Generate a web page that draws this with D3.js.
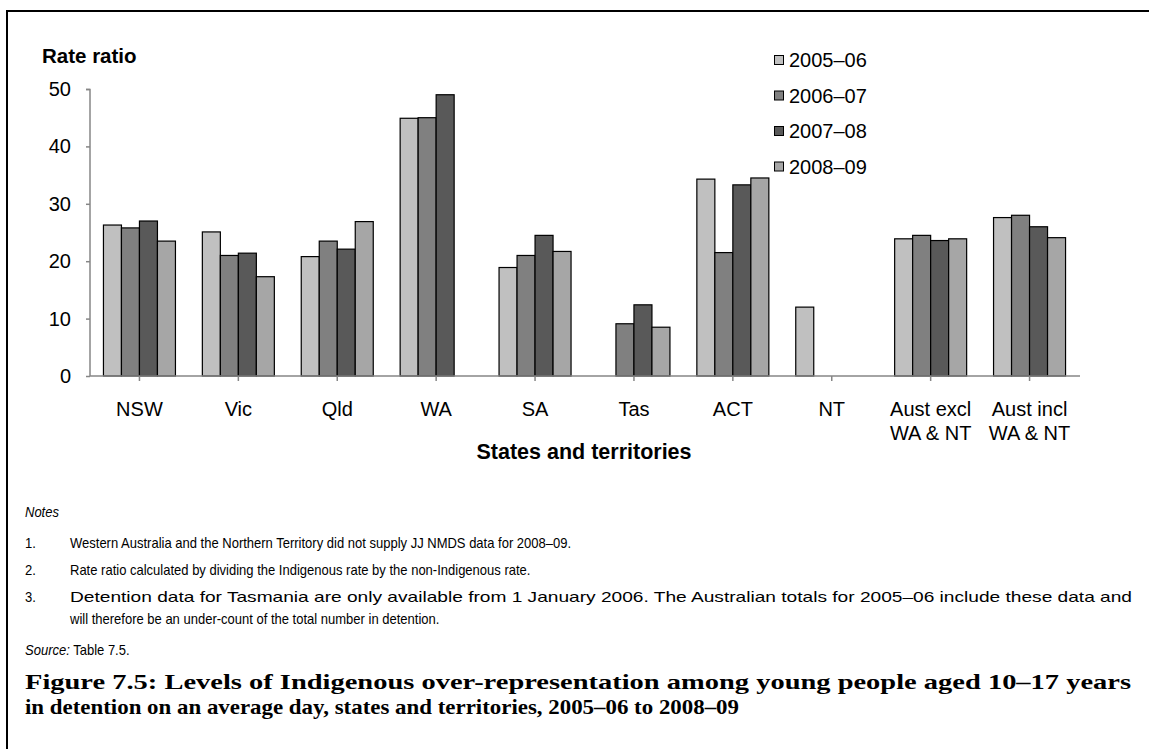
<!DOCTYPE html>
<html><head><meta charset="utf-8">
<script src="https://cdn.jsdelivr.net/npm/d3@7"></script>
<style>body{margin:0;background:#fff}svg{display:block}</style>
</head><body>
<script>
const categories = [["NSW"],["Vic"],["Qld"],["WA"],["SA"],["Tas"],["ACT"],["NT"],["Aust excl","WA & NT"],["Aust incl","WA & NT"]];
const seriesNames = ["2005–06","2006–07","2007–08","2008–09"];
const s2005 = [26.3, 25.1, 20.8, 44.9, 18.9, null, 34.3, 12.0, 23.9, 27.6];
const s2006 = [25.8, 21.0, 23.5, 45.0, 21.0, 9.1, 21.5, null, 24.5, 28.0];
const s2007 = [27.0, 21.4, 22.1, 49.0, 24.5, 12.4, 33.3, null, 23.6, 26.0];
const s2008 = [23.5, 17.3, 26.9, null, 21.7, 8.5, 34.5, null, 23.9, 24.1];
const seriesColors = ["#c0c0c0","#808080","#595959","#a6a6a6"];
const yTicks = [0,10,20,30,40,50];
const notes = [
  ["1.","Western Australia and the Northern Territory did not supply JJ NMDS data for 2008–09.", false],
  ["2.","Rate ratio calculated by dividing the Indigenous rate by the non-Indigenous rate.", false],
  ["3.","Detention data for Tasmania are only available from 1 January 2006. The Australian totals for 2005–06 include these data and", true],
  ["","will therefore be an under-count of the total number in detention.", false]
];
const titleLines = ["Figure 7.5: Levels of Indigenous over-representation among young people aged 10–17 years",
  "in detention on an average day, states and territories, 2005–06 to 2008–09"];

const W = 1149, H = 749;
const svg = d3.select("body").append("svg").attr("width", W).attr("height", H);
svg.append("rect").attr("width", W).attr("height", H).attr("fill", "#fff");
svg.append("path").attr("d", "M7,749V11H1149").attr("fill","none").attr("stroke","#000").attr("stroke-width",2);

const x0 = d3.scaleBand().domain(d3.range(categories.length)).range([90, 1079]).padding(0);
const bw = x0.bandwidth();
const grp = bw * 0.728;
const x1 = d3.scaleBand().domain(d3.range(4)).range([(bw-grp)/2, (bw+grp)/2]).padding(0);
const y = d3.scaleLinear().domain([0,50]).range([376, 89]);
const allSeries = [s2005, s2006, s2007, s2008];
const font = "Arial, 'Liberation Sans', sans-serif";
const axisColor = "#868686";
const fs = 20;

// bars
allSeries.forEach((ser, si) => {
  svg.append("g").selectAll("rect").data(ser.map((v,i)=>({v,i})).filter(d=>d.v!=null))
    .join("rect")
    .attr("x", d => x0(d.i) + x1(si))
    .attr("width", x1.bandwidth())
    .attr("y", d => y(d.v))
    .attr("height", d => y(0) - y(d.v))
    .attr("fill", seriesColors[si])
    .attr("stroke", "#000").attr("stroke-width", 1.2);
});

// y axis
const yAxis = d3.axisLeft(y).tickValues(yTicks).tickSize(4).tickPadding(15);
const gy = svg.append("g").attr("transform","translate(90,0)").call(yAxis);
gy.select(".domain").attr("stroke", axisColor).attr("stroke-width",1.5).attr("d","M-4,89.5H0V376");
gy.selectAll(".tick line").attr("stroke", axisColor).attr("stroke-width",1.5);
gy.selectAll(".tick text").attr("font-family", font).attr("font-size", fs).attr("fill","#000");

// x axis
const xAxis = d3.axisBottom(x0).tickSize(5).tickFormat("");
const gx = svg.append("g").attr("transform","translate(0,376)").call(xAxis);
gx.select(".domain").attr("stroke", axisColor).attr("stroke-width",1.5).attr("d","M90,0H1080");
gx.selectAll(".tick line").attr("stroke", axisColor).attr("stroke-width",1.5);
categories.forEach((lines, i) => {
  const t = svg.append("text").attr("x", x0(i) + bw/2).attr("y", 416)
    .attr("text-anchor","middle").attr("font-family", font).attr("font-size", fs).attr("fill","#000");
  lines.forEach((l, k) => t.append("tspan").attr("x", x0(i)+bw/2).attr("dy", k===0?0:24).text(l));
});

// axis titles
svg.append("text").attr("x", 42).attr("y", 63).attr("font-family", font).attr("font-size", 20.5)
  .attr("font-weight","bold").text("Rate ratio");
svg.append("text").attr("x", 584).attr("y", 459).attr("text-anchor","middle").attr("font-family", font)
  .attr("font-size", 21.5).attr("font-weight","bold").text("States and territories");

// legend
seriesNames.forEach((n, i) => {
  const yy = 60 + i*35.5;
  svg.append("rect").attr("x", 774.5).attr("y", yy-4.5).attr("width", 9).attr("height", 9)
    .attr("fill", seriesColors[i]).attr("stroke","#000").attr("stroke-width",1);
  svg.append("text").attr("x", 789).attr("y", yy+7).attr("font-family", font).attr("font-size", fs).text(n);
});

// notes (slightly condensed; note 3 first line fills the full measure)
const nfs = 14, sx = 0.93;
function noteText(x, yy, str, italic) {
  const g = svg.append("g").attr("transform", `translate(${x},${yy}) scale(${sx},1)`);
  return g.append("text").attr("font-family", font).attr("font-size", nfs)
    .attr("font-style", italic ? "italic" : null).text(str);
}
noteText(25, 517, "Notes", true);
const noteY = [548, 575, 602, 624];
notes.forEach((n, i) => {
  if (n[0]) noteText(25, noteY[i], n[0], false);
  const t = noteText(70, noteY[i], n[1], false);
  if (n[2]) {
    t.attr("textLength", (1132 - 70) / sx).attr("lengthAdjust", "spacingAndGlyphs");
  }
});
const srcG = svg.append("g").attr("transform", `translate(25,655) scale(${sx},1)`);
const src = srcG.append("text").attr("font-family", font).attr("font-size", nfs);
src.append("tspan").attr("font-style","italic").text("Source:");
src.append("tspan").text(" Table 7.5.");

// title
const titleLen = [1106, 714];
titleLines.forEach((l, i) => {
  svg.append("text").attr("x", 25).attr("y", 689 + i*25).attr("font-family","'Liberation Serif', 'DejaVu Serif', serif")
    .attr("font-size", 21).attr("font-weight","bold")
    .attr("textLength", titleLen[i]).attr("lengthAdjust","spacingAndGlyphs").text(l);
});
</script>
</body></html>
